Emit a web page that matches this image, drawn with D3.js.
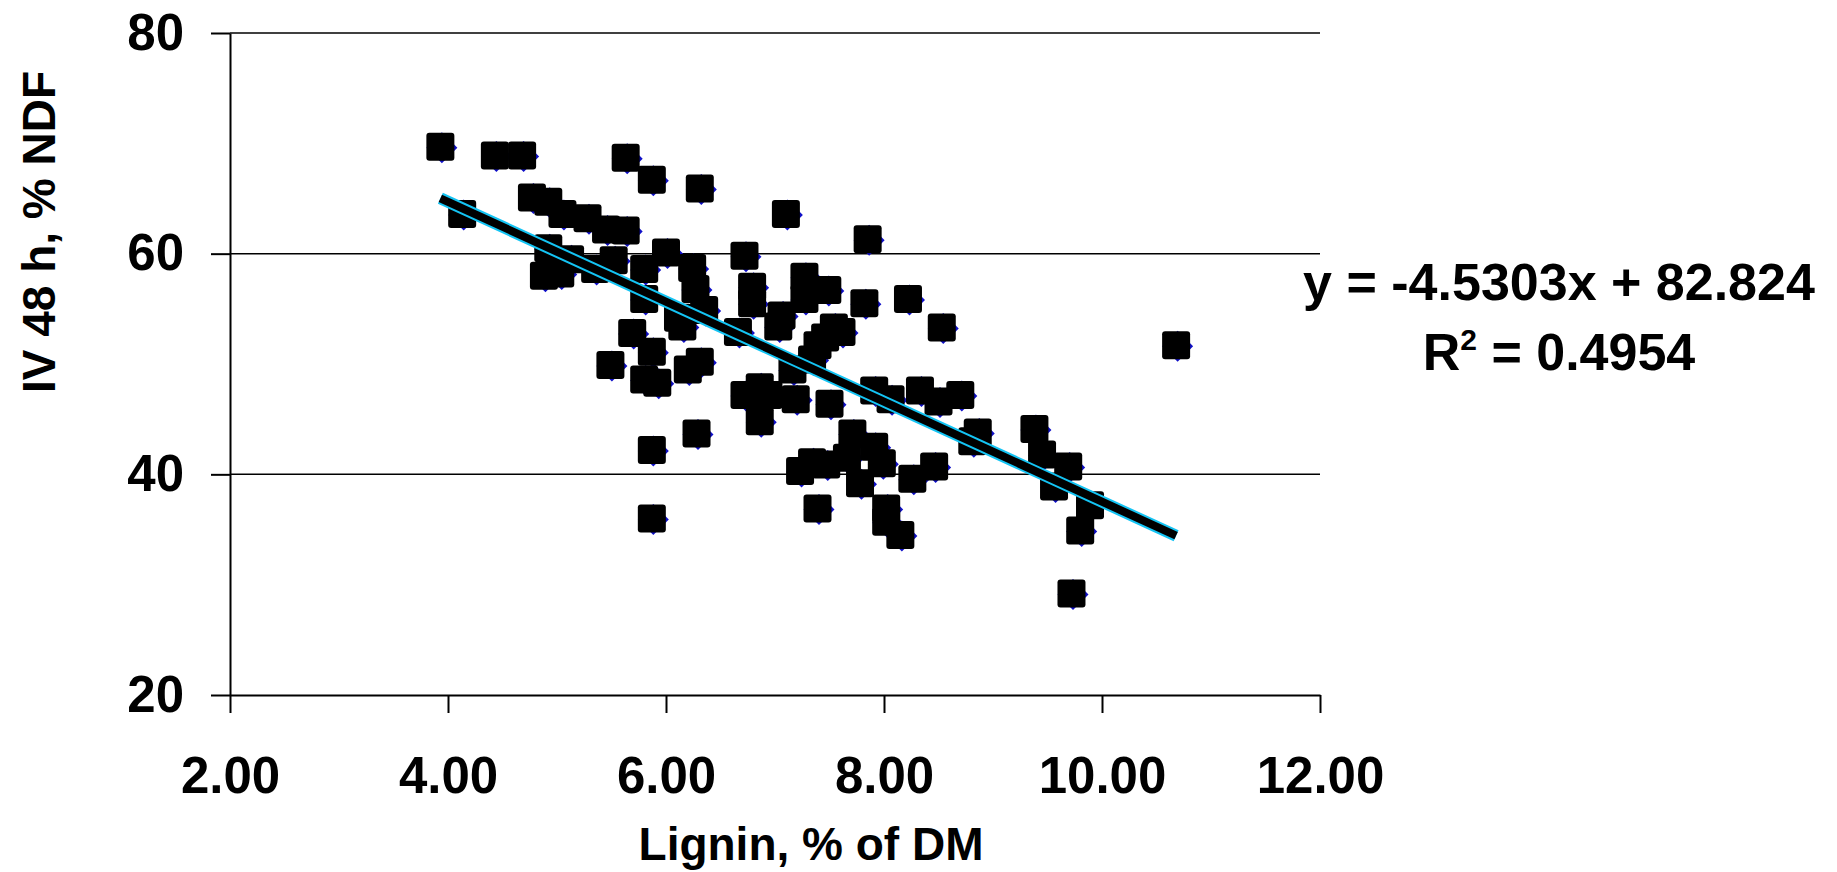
<!DOCTYPE html>
<html lang="en">
<head>
<meta charset="UTF-8">
<title>IV 48 h vs lignin</title>
<script src="https://d3js.org/d3.v7.min.js"></script>
<style>
  body { margin: 0; background: #fff; }
  text { font-family: "Liberation Sans", Arial, sans-serif; font-weight: bold; fill: #000; }
</style>
</head>
<body>
<div id="chart"></div>
<script>
// lignin, % of DM (x) and IV 48 h, % NDF (y)
const lignin = [3.93, 4.43, 4.68, 5.63, 5.87, 6.31, 7.10, 4.13, 4.77, 4.92,
  5.05, 5.28, 5.45, 5.63, 4.92, 4.88, 5.03, 5.12, 5.35, 5.52,
  5.80, 5.80, 6.00, 6.24, 6.27, 6.35, 6.11, 6.15, 6.72, 6.79,
  6.79, 7.06, 7.03, 6.66, 7.27, 7.27, 5.69, 5.87, 5.49, 5.80,
  5.92, 6.20, 6.31, 6.72, 6.86, 6.86, 6.94, 7.19, 7.16, 7.34,
  6.28, 5.87, 5.87, 7.23, 7.34, 7.47, 7.50, 7.91, 8.06, 8.33,
  8.50, 8.70, 7.71, 7.91, 7.66, 7.98, 7.78, 8.26, 8.46, 7.39,
  8.02, 8.02, 8.15, 8.86, 8.81, 9.38, 9.45, 9.69, 9.56, 9.89,
  9.80, 9.72, 7.85, 7.48, 7.82, 8.22, 8.53, 7.54, 7.61, 7.46,
  7.39, 10.68]
const iv48 = [69.7, 68.9, 68.9, 68.7, 66.7, 65.9, 63.6, 63.6, 65.1, 64.7,
  63.6, 63.2, 62.2, 62.1, 60.5, 58.0, 58.2, 59.5, 58.6, 59.4,
  58.6, 55.9, 60.1, 58.7, 56.8, 54.9, 54.2, 53.4, 59.8, 57.0,
  55.5, 54.4, 53.4, 52.9, 57.9, 55.9, 52.8, 51.1, 49.9, 48.6,
  48.3, 49.5, 50.2, 47.2, 47.9, 44.8, 47.2, 46.8, 49.5, 50.4,
  43.7, 42.2, 36.0, 40.3, 41.1, 40.9, 46.4, 47.6, 46.8, 47.6,
  46.6, 47.2, 43.7, 42.5, 41.5, 41.0, 39.2, 39.6, 40.7, 36.9,
  36.9, 35.7, 34.5, 43.8, 43.0, 44.1, 41.8, 40.7, 38.9, 37.2,
  34.9, 29.2, 61.3, 56.7, 55.5, 55.9, 53.3, 53.3, 52.9, 52.4,
  51.7, 51.7]

const xTicks = [2, 4, 6, 8, 10, 12]
const yTicks = [20, 40, 60, 80]
const gridValues = [40, 60, 80]
const slope = -4.5303
const intercept = 82.824
const eqLine = "y = -4.5303x + 82.824"
const r2Value = " = 0.4954"

const W = 1837, H = 872
const margin = {top: 33, right: 517, bottom: 177, left: 230},
    width = W - margin.left - margin.right,
    height = H - margin.top - margin.bottom

const svg = d3.select("#chart")
  .append("svg")
    .attr("width", W)
    .attr("height", H)

const g = svg.append("g")
    .attr("transform", `translate(${margin.left}, ${margin.top})`)

const x = d3.scaleLinear().domain([2, 12]).range([0, width])
const y = d3.scaleLinear().domain([20, 80]).range([height, 0])

// horizontal gridlines
g.append("g")
  .selectAll("line")
  .data(gridValues)
  .join("line")
    .attr("x1", 0)
    .attr("x2", width)
    .attr("y1", d => y(d))
    .attr("y2", d => y(d))
    .attr("stroke", "#000")
    .attr("stroke-width", 1.5)

// axes
const yAxis = g.append("g")
  .call(d3.axisLeft(y).tickValues(yTicks).tickSize(19).tickSizeOuter(0).tickPadding(27).tickFormat(d3.format("d")))
const xAxis = g.append("g")
  .attr("transform", `translate(0, ${height})`)
  .call(d3.axisBottom(x).tickValues(xTicks).tickSize(18).tickSizeOuter(0).tickPadding(44).tickFormat(d3.format(".2f")))

for (const ax of [xAxis, yAxis]) {
  ax.select(".domain").attr("stroke", "#000").attr("stroke-width", 2)
  ax.selectAll(".tick line").attr("stroke", "#000").attr("stroke-width", 2)
  ax.selectAll(".tick text").attr("font-size", 51).attr("fill", "#000")
    .style("font-family", '"Liberation Sans", Arial, sans-serif').style("font-weight", "bold")
}

// markers: blue diamond peeking out behind each black square
const pts = lignin.map((v, i) => [v, iv48[i]])
const half = 14

g.append("g")
  .selectAll("path")
  .data(pts)
  .join("path")
    .attr("transform", d => `translate(${x(d[0]) + 1.5}, ${y(d[1]) + 1})`)
    .attr("d", "M0,-15.5L15.5,0L0,15.5L-15.5,0Z")
    .attr("fill", "#1010c8")

g.append("g")
  .selectAll("rect")
  .data(pts)
  .join("rect")
    .attr("x", d => x(d[0]) - half)
    .attr("y", d => y(d[1]) - half)
    .attr("width", half * 2)
    .attr("height", half * 2)
    .attr("rx", 3)
    .attr("fill", "#000")

// linear trendline over the data range
const [xmin, xmax] = d3.extent(lignin)
const trend = [[xmin, slope * xmin + intercept], [xmax, slope * xmax + intercept]]
const line = d3.line().x(d => x(d[0])).y(d => y(d[1]))

g.append("path")
    .attr("d", line(trend))
    .attr("stroke", "#14c4f4")
    .attr("stroke-width", 12)
    .attr("fill", "none")
g.append("path")
    .attr("d", line(trend))
    .attr("stroke", "#000")
    .attr("stroke-width", 8)
    .attr("fill", "none")

// equation box
svg.append("text")
    .attr("x", 1559)
    .attr("y", 300)
    .attr("text-anchor", "middle")
    .attr("font-size", 52)
    .text(eqLine)

const r2 = svg.append("text")
    .attr("x", 1559)
    .attr("y", 370)
    .attr("text-anchor", "middle")
    .attr("font-size", 52)
r2.append("tspan").text("R")
r2.append("tspan").attr("font-size", 30).attr("dy", -20).text("2")
r2.append("tspan").attr("dy", 20).text(r2Value)

// axis titles
svg.append("text")
    .attr("x", 811)
    .attr("y", 860)
    .attr("text-anchor", "middle")
    .attr("font-size", 46)
    .text("Lignin, % of DM")

svg.append("text")
    .attr("transform", "translate(55, 232) rotate(-90)")
    .attr("text-anchor", "middle")
    .attr("font-size", 46)
    .text("IV 48 h, % NDF")
</script>
</body>
</html>
